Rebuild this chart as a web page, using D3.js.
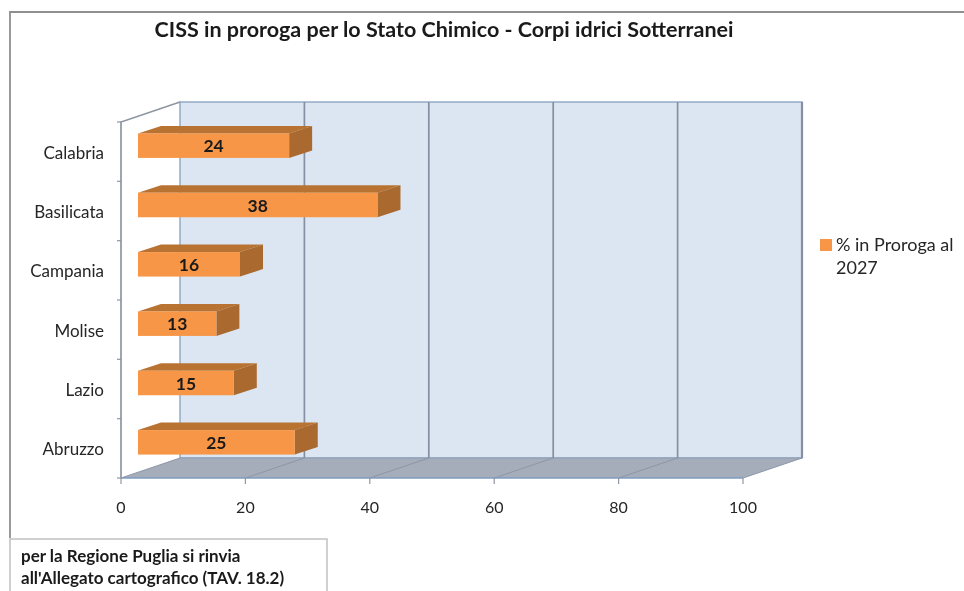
<!DOCTYPE html>
<html><head><meta charset="utf-8">
<script src="https://cdn.jsdelivr.net/npm/d3@7/dist/d3.min.js"></script>
<style>html,body{margin:0;padding:0;background:#fff}svg{display:block;filter:blur(0.45px)}text{font-family:Lato,"Open Sans",sans-serif}</style>
</head><body><svg id="c" width="964" height="591"></svg>
<script>
const categories = ["Calabria","Basilicata","Campania","Molise","Lazio","Abruzzo"];
const values = [24.3,38.5,16.4,12.6,15.4,25.2];
const valueLabels = ["24","38","16","13","15","25"];
const xTicks = [0,20,40,60,80,100];
const titleText = "CISS in proroga per lo Stato Chimico - Corpi idrici Sotterranei";
const legendLines = ["% in Proroga al","2027"];
const noteLines = ["per la Regione Puglia si rinvia","all'Allegato cartografico (TAV. 18.2)"];

const svg = d3.select("#c");
const x = d3.scaleLinear().domain([0,100]).range([121,743]);
const y = d3.scaleBand().domain(categories).range([122,478]);
const wall = {dx:59, dy:-20};
const barOff = {dx:17, dy:-6, h:24.5, ddx:23, ddy:-7.5};
const plotTop = y.range()[0], plotBot = y.range()[1];
const line = d3.line();

// frame
svg.append("path").attr("d","M10,538V12H964").attr("fill","none").attr("stroke","#8f8f8f").attr("stroke-width",1.8);
// back wall
svg.append("rect").attr("x",x(0)+wall.dx).attr("y",plotTop+wall.dy).attr("width",x(100)-x(0)).attr("height",plotBot-plotTop)
  .attr("fill","#dce6f2").attr("stroke","#8ea6c2").attr("stroke-width",1.4);
// floor
svg.append("path").attr("d",line([[x(0),plotBot],[x(0)+wall.dx,plotBot+wall.dy],[x(100)+wall.dx,plotBot+wall.dy],[x(100),plotBot]])+"Z")
  .attr("fill","#a5adbb").attr("stroke","none");
svg.append("line").attr("x1",x(0)).attr("x2",x(100)).attr("y1",plotBot).attr("y2",plotBot).attr("stroke","#7f9dc0").attr("stroke-width",1.6);
svg.append("line").attr("x1",x(0)+wall.dx).attr("x2",x(100)+wall.dx).attr("y1",plotBot+wall.dy).attr("y2",plotBot+wall.dy).attr("stroke","#8e9db5").attr("stroke-width",1.2);
// gridlines on wall & floor
xTicks.forEach(t=>{
  const gx = x(t);
  if(t>0) svg.append("line").attr("x1",gx+wall.dx).attr("x2",gx+wall.dx).attr("y1",plotTop+wall.dy).attr("y2",plotBot+wall.dy).attr("stroke","#868fa2").attr("stroke-width",t==100?2.2:1.7);
  svg.append("line").attr("x1",gx).attr("y1",plotBot).attr("x2",gx+wall.dx).attr("y2",plotBot+wall.dy).attr("stroke","#8d96a8").attr("stroke-width",1);
});
// left axis
svg.append("path").attr("d",line([[x(0)+wall.dx,plotTop+wall.dy],[x(0),plotTop],[x(0),plotBot]])).attr("fill","none").attr("stroke","#8f96a3").attr("stroke-width",1.7);
// axis ticks
d3.range(categories.length+1).forEach(i=>{
  const ty = plotTop + i*y.step();
  svg.append("line").attr("x1",x(0)-4).attr("x2",x(0)).attr("y1",ty).attr("y2",ty).attr("stroke","#8f96a3").attr("stroke-width",1.2);
});
svg.selectAll(".xt").data(xTicks).join("line").attr("class","xt").attr("x1",d=>x(d)).attr("x2",d=>x(d)).attr("y1",plotBot).attr("y2",plotBot+6).attr("stroke","#8f96a3").attr("stroke-width",1.2);
svg.selectAll(".xl").data(xTicks).join("text").attr("class","xl").attr("x",d=>x(d)).attr("y",513).attr("text-anchor","middle").attr("font-size",16).attr("fill","#262626").text(d=>d);
svg.selectAll(".yl").data(categories).join("text").attr("class","yl").attr("x",104).attr("y",d=>y(d)+y.bandwidth()/2+7).attr("text-anchor","end").attr("font-size",17).attr("fill","#262626").text(d=>d);

// bars
categories.forEach((c,i)=>{
  const v = values[i];
  const x0 = x(0)+barOff.dx, x1 = x0 + (x(v)-x(0));
  const y0 = y(c)+y.bandwidth()/2+barOff.dy-barOff.h/2, y1 = y0+barOff.h;
  const {ddx,ddy} = barOff;
  svg.append("path").attr("d",line([[x0,y0],[x0+ddx,y0+ddy],[x1+ddx,y0+ddy],[x1,y0]])+"Z").attr("fill","#b87333");
  svg.append("path").attr("d",line([[x1,y0],[x1+ddx,y0+ddy],[x1+ddx,y1+ddy],[x1,y1]])+"Z").attr("fill","#a9692f");
  svg.append("rect").attr("x",x0).attr("y",y0).attr("width",x1-x0).attr("height",barOff.h).attr("fill","#f79646");
  svg.append("text").attr("x",(x0+x1)/2).attr("y",y0+19).attr("text-anchor","middle").attr("font-size",17.5).attr("font-weight",700).attr("fill","#1a1a1a").text(valueLabels[i]);
});

// title
svg.append("text").attr("x",444).attr("y",37).attr("text-anchor","middle").attr("font-size",21.5).attr("font-weight",700).attr("fill","#1a1a1a").text(titleText);
// legend
svg.append("rect").attr("x",820).attr("y",239).attr("width",12).attr("height",12).attr("fill","#f79646");
svg.selectAll(".lg").data(legendLines).join("text").attr("class","lg").attr("x",836).attr("y",(d,i)=>251+i*23).attr("font-size",18).attr("fill","#262626").text(d=>d);
// note
svg.append("rect").attr("x",10).attr("y",539).attr("width",317).attr("height",60).attr("fill","#fff").attr("stroke","#bdbdbd").attr("stroke-width",1.4);
svg.selectAll(".nt").data(noteLines).join("text").attr("class","nt").attr("x",21).attr("y",(d,i)=>562+i*22).attr("font-size",17).attr("font-weight",700).attr("fill","#1a1a1a").text(d=>d);
</script></body></html>
